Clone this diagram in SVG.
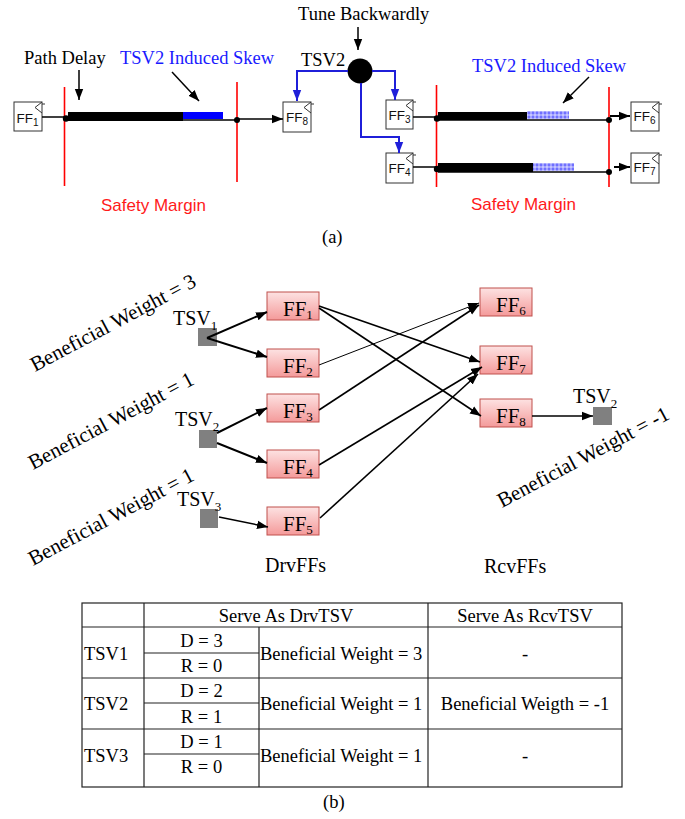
<svg xmlns="http://www.w3.org/2000/svg" width="685" height="819" viewBox="0 0 685 819">
<style>
.serif{font-family:"Liberation Serif","Times New Roman",serif}
.sans{font-family:"Liberation Sans",Arial,sans-serif}
.t18{font-size:18.5px}
.blue{fill:#1a1aff}
.red{fill:#ff1a1a}
.rl{stroke:#ff0000;stroke-width:1.6;fill:none}
.ffbox{fill:#fff;stroke:#333;stroke-width:1}
.clk{fill:none;stroke:#333;stroke-width:1}
.ffs{font-size:13.5px;fill:#111}
.sub{font-size:10px}
.bl{stroke:#1f1fd9;stroke-width:2;fill:none}
.k{stroke:#000;fill:none}
.pink{fill:url(#pg);stroke:#c0504d;stroke-width:1}
.tsv{fill:#808080}
.g21{font-size:21px}
.g20{font-size:20px}
.gs{font-size:13px}
.tb{font-size:18.5px}
.tl{stroke:#222;stroke-width:1.2;fill:none}
</style>
<defs>
<marker id="ak" markerUnits="userSpaceOnUse" markerWidth="12" markerHeight="10" refX="11" refY="5" orient="auto"><path d="M0,0.8 L11,5 L0,9.2 Z" fill="#000"/></marker>
<marker id="ab" markerUnits="userSpaceOnUse" markerWidth="12" markerHeight="10" refX="11" refY="5" orient="auto"><path d="M0,0.8 L11,5 L0,9.2 Z" fill="#1f1fd9"/></marker>
<linearGradient id="pg" x1="0" y1="0" x2="0" y2="1"><stop offset="0" stop-color="#fde2e2"/><stop offset="1" stop-color="#f49a9a"/></linearGradient>
<pattern id="chk" width="4" height="4" patternUnits="userSpaceOnUse"><rect width="4" height="4" fill="#a3a3ff"/><rect width="2" height="2" fill="#7070ff"/><rect x="2" y="2" width="2" height="2" fill="#c4c4ff"/></pattern>
</defs>

<!-- (a) top part -->
<g id="labels-a">
<text class="serif t18" x="24" y="64">Path Delay</text>
<text class="serif t18 blue" x="120" y="64">TSV2 Induced Skew</text>
<text class="serif t18" x="298" y="20">Tune Backwardly</text>
<text class="serif t18" x="301" y="66">TSV2</text>
<text class="serif t18 blue" x="472" y="72">TSV2 Induced Skew</text>
<text class="sans red" font-size="17" x="101" y="211">Safety Margin</text>
<text class="sans red" font-size="17" x="471" y="210">Safety Margin</text>
<text class="serif t18" x="322" y="243">(a)</text>
</g>

<g id="safety-lines">
<line class="rl" x1="64.5" y1="87" x2="64.5" y2="186"/>
<line class="rl" x1="237" y1="82" x2="237" y2="182"/>
<line class="rl" x1="436.5" y1="85" x2="436.5" y2="187"/>
<line class="rl" x1="609" y1="87" x2="609" y2="187"/>
</g>

<g id="bars">
<line class="k" stroke-width="1.5" x1="66" y1="120" x2="237" y2="120"/>
<rect x="68" y="112" width="115" height="9" fill="#000"/>
<rect x="183" y="112" width="40" height="7" fill="#0000ff"/>
<line class="k" stroke-width="1.5" x1="438" y1="120" x2="609" y2="120"/>
<rect x="438" y="112" width="89" height="8" fill="#000"/>
<rect x="527" y="111" width="42" height="8" fill="url(#chk)"/>
<line class="k" stroke-width="1.5" x1="438" y1="172" x2="609" y2="172"/>
<rect x="438" y="163" width="95" height="9" fill="#000"/>
<rect x="533" y="163" width="41" height="8" fill="url(#chk)"/>
<circle cx="66" cy="118.5" r="3.2" fill="#000"/>
<circle cx="237" cy="120" r="3" fill="#000"/>
<circle cx="437" cy="118.5" r="3.2" fill="#000"/>
<circle cx="609" cy="120" r="3" fill="#000"/>
<circle cx="437" cy="169" r="3.2" fill="#000"/>
<circle cx="609" cy="172" r="3" fill="#000"/>
</g>

<g id="tsv2-top">
<circle cx="360" cy="71" r="12.5" fill="#000"/>
</g>

<g id="top-ff1"><rect class="ffbox" x="14" y="102" width="28" height="29"/><polyline class="clk" points="42,102 35,107.5 42,113"/><line class="clk" x1="42" y1="104" x2="45" y2="104"/><text class="sans ffs" x="16.5" y="123">FF<tspan class="sub" dy="3">1</tspan></text></g>
<g id="top-ff8"><rect class="ffbox" x="283" y="102" width="28" height="30"/><polyline class="clk" points="311,102 304,107.5 311,113"/><line class="clk" x1="311" y1="104" x2="314" y2="104"/><text class="sans ffs" x="286" y="122">FF<tspan class="sub" dy="3">8</tspan></text></g>
<g id="top-ff3"><rect class="ffbox" x="386" y="100" width="27" height="29"/><polyline class="clk" points="413,100 406,105.5 413,111"/><line class="clk" x1="413" y1="102" x2="416" y2="102"/><text class="sans ffs" x="388.5" y="120">FF<tspan class="sub" dy="3">3</tspan></text></g>
<g id="top-ff4"><rect class="ffbox" x="386" y="153" width="27" height="30"/><polyline class="clk" points="413,153 406,158.5 413,164"/><line class="clk" x1="413" y1="155" x2="416" y2="155"/><text class="sans ffs" x="388.5" y="173">FF<tspan class="sub" dy="3">4</tspan></text></g>
<g id="top-ff6"><rect class="ffbox" x="631" y="102" width="28" height="29"/><polyline class="clk" points="659,102 652,107.5 659,113"/><line class="clk" x1="659" y1="104" x2="662" y2="104"/><text class="sans ffs" x="633.5" y="121">FF<tspan class="sub" dy="3">6</tspan></text></g>
<g id="top-ff7"><rect class="ffbox" x="631" y="153" width="28" height="30"/><polyline class="clk" points="659,153 652,158.5 659,164"/><line class="clk" x1="659" y1="155" x2="662" y2="155"/><text class="sans ffs" x="633.5" y="172">FF<tspan class="sub" dy="3">7</tspan></text></g>

<g id="connectors-a">
<line class="k" stroke-width="1.5" x1="42" y1="117" x2="64" y2="117"/>
<line class="k" stroke-width="1.5" x1="413" y1="117" x2="436" y2="117"/>
<line class="k" stroke-width="1.5" x1="413" y1="167" x2="436" y2="167"/>
<line class="k" stroke-width="1.5" x1="238" y1="119" x2="283" y2="119" marker-end="url(#ak)"/>
<line class="k" stroke-width="2" x1="610" y1="116" x2="630" y2="116" marker-end="url(#ak)"/>
<line class="k" stroke-width="2" x1="614" y1="167" x2="630" y2="167" marker-end="url(#ak)"/>
<line class="k" stroke-width="1.5" x1="79" y1="70" x2="79" y2="100" marker-end="url(#ak)"/>
<line class="k" stroke-width="1.5" x1="172" y1="72" x2="199" y2="101" marker-end="url(#ak)"/>
<line class="k" stroke-width="1.5" x1="589" y1="77" x2="563" y2="103" marker-end="url(#ak)"/>
<line class="k" stroke-width="1.5" x1="358" y1="27" x2="358" y2="50" marker-end="url(#ak)"/>
<polyline class="bl" points="348,71 297,71 297,101" marker-end="url(#ab)"/>
<polyline class="bl" points="372,71 395,71 395,100" marker-end="url(#ab)"/>
<polyline class="bl" points="361,83 361,137 399,137 399,153" marker-end="url(#ab)"/>
</g>

<!-- (b) graph -->
<g id="weights">
<text class="serif" font-size="21" transform="translate(35,372) rotate(-28)">Beneficial Weight = 3</text>
<text class="serif" font-size="21" transform="translate(33,470) rotate(-28)">Beneficial Weight = 1</text>
<text class="serif" font-size="21" transform="translate(33,566) rotate(-28)">Beneficial Weight = 1</text>
<text class="serif" font-size="21" transform="translate(502,508) rotate(-28)">Beneficial Weight = -1</text>
<text class="serif g20" x="265" y="572">DrvFFs</text>
<text class="serif g20" x="484" y="573">RcvFFs</text>
</g>

<g id="tsv1"><rect class="tsv" x="198" y="328" width="19" height="18"/><text class="serif g20" x="173" y="325">TSV<tspan class="gs" dy="5">1</tspan></text></g>
<g id="tsv2"><rect class="tsv" x="199" y="430" width="18" height="18"/><text class="serif g20" x="175" y="426">TSV<tspan class="gs" dy="5">2</tspan></text></g>
<g id="tsv3"><rect class="tsv" x="200" y="509" width="18" height="19"/><text class="serif g20" x="177" y="506">TSV<tspan class="gs" dy="5">3</tspan></text></g>
<g id="tsv2r"><rect class="tsv" x="593" y="407" width="19" height="18"/><text class="serif g20" x="573" y="403">TSV<tspan class="gs" dy="5">2</tspan></text></g>

<g id="ff1"><rect class="pink" x="267" y="292" width="52" height="28"/><text class="serif g21" x="283" y="316">FF<tspan class="gs" dy="3">1</tspan></text></g>
<g id="ff2"><rect class="pink" x="267" y="349" width="52" height="28"/><text class="serif g21" x="283" y="373">FF<tspan class="gs" dy="3">2</tspan></text></g>
<g id="ff3"><rect class="pink" x="267" y="394" width="52" height="28"/><text class="serif g21" x="283" y="418">FF<tspan class="gs" dy="3">3</tspan></text></g>
<g id="ff4"><rect class="pink" x="267" y="450" width="52" height="28"/><text class="serif g21" x="283" y="474">FF<tspan class="gs" dy="3">4</tspan></text></g>
<g id="ff5"><rect class="pink" x="267" y="507" width="52" height="28"/><text class="serif g21" x="283" y="531">FF<tspan class="gs" dy="3">5</tspan></text></g>
<g id="ff6"><rect class="pink" x="480" y="288" width="52" height="28"/><text class="serif g21" x="496" y="312">FF<tspan class="gs" dy="3">6</tspan></text></g>
<g id="ff7"><rect class="pink" x="480" y="346" width="52" height="28"/><text class="serif g21" x="496" y="370">FF<tspan class="gs" dy="3">7</tspan></text></g>
<g id="ff8"><rect class="pink" x="480" y="399" width="52" height="28"/><text class="serif g21" x="496" y="423">FF<tspan class="gs" dy="3">8</tspan></text></g>

<g id="connectors-b">
<line class="k" stroke-width="2" x1="207" y1="338" x2="267" y2="312" marker-end="url(#ak)"/>
<line class="k" stroke-width="2" x1="207" y1="338" x2="267" y2="357" marker-end="url(#ak)"/>
<line class="k" stroke-width="2" x1="217" y1="433" x2="267" y2="408" marker-end="url(#ak)"/>
<line class="k" stroke-width="2" x1="217" y1="443" x2="267" y2="463" marker-end="url(#ak)"/>
<line class="k" stroke-width="1.5" x1="219" y1="517" x2="268" y2="527" marker-end="url(#ak)"/>
<line class="k" stroke-width="1.6" x1="319" y1="306" x2="480" y2="362" marker-end="url(#ak)"/>
<line class="k" stroke-width="1.6" x1="319" y1="308" x2="481" y2="416" marker-end="url(#ak)"/>
<line class="k" stroke-width="1" x1="319" y1="365" x2="479" y2="303" marker-end="url(#ak)"/>
<line class="k" stroke-width="1.6" x1="319" y1="410" x2="479" y2="305" marker-end="url(#ak)"/>
<line class="k" stroke-width="1.6" x1="319" y1="465" x2="482" y2="367" marker-end="url(#ak)"/>
<line class="k" stroke-width="1.6" x1="320" y1="518" x2="478" y2="374" marker-end="url(#ak)"/>
<line class="k" stroke-width="1.6" x1="532" y1="416" x2="593" y2="416" marker-end="url(#ak)"/>
</g>

<!-- table -->
<g id="table">
<rect class="tl" x="82" y="603" width="540" height="184"/>
<line class="tl" x1="82" y1="627" x2="622" y2="627"/>
<line class="tl" x1="82" y1="678" x2="622" y2="678"/>
<line class="tl" x1="82" y1="729" x2="622" y2="729"/>
<line class="tl" x1="144" y1="603" x2="144" y2="787"/>
<line class="tl" x1="259" y1="627" x2="259" y2="787"/>
<line class="tl" x1="428" y1="603" x2="428" y2="787"/>
<line class="tl" x1="144" y1="653" x2="259" y2="653"/>
<line class="tl" x1="144" y1="703" x2="259" y2="703"/>
<line class="tl" x1="144" y1="754" x2="259" y2="754"/>
<g class="serif tb">
<text x="286" y="622" text-anchor="middle">Serve As DrvTSV</text>
<text x="525" y="622" text-anchor="middle">Serve As RcvTSV</text>
<text x="84" y="660">TSV1</text>
<text x="84" y="710">TSV2</text>
<text x="84" y="762">TSV3</text>
<text x="201.5" y="647" text-anchor="middle">D = 3</text>
<text x="201.5" y="672" text-anchor="middle">R = 0</text>
<text x="201.5" y="697" text-anchor="middle">D = 2</text>
<text x="201.5" y="723" text-anchor="middle">R = 1</text>
<text x="201.5" y="748" text-anchor="middle">D = 1</text>
<text x="201.5" y="773" text-anchor="middle">R = 0</text>
<text x="260" y="660">Beneficial Weight = 3</text>
<text x="260" y="710">Beneficial Weight = 1</text>
<text x="260" y="762">Beneficial Weight = 1</text>
<text x="525" y="660" text-anchor="middle">-</text>
<text x="525" y="710" text-anchor="middle">Beneficial Weigth = -1</text>
<text x="525" y="762" text-anchor="middle">-</text>
</g>
<text class="serif t18" x="323" y="808">(b)</text>
</g>
</svg>
